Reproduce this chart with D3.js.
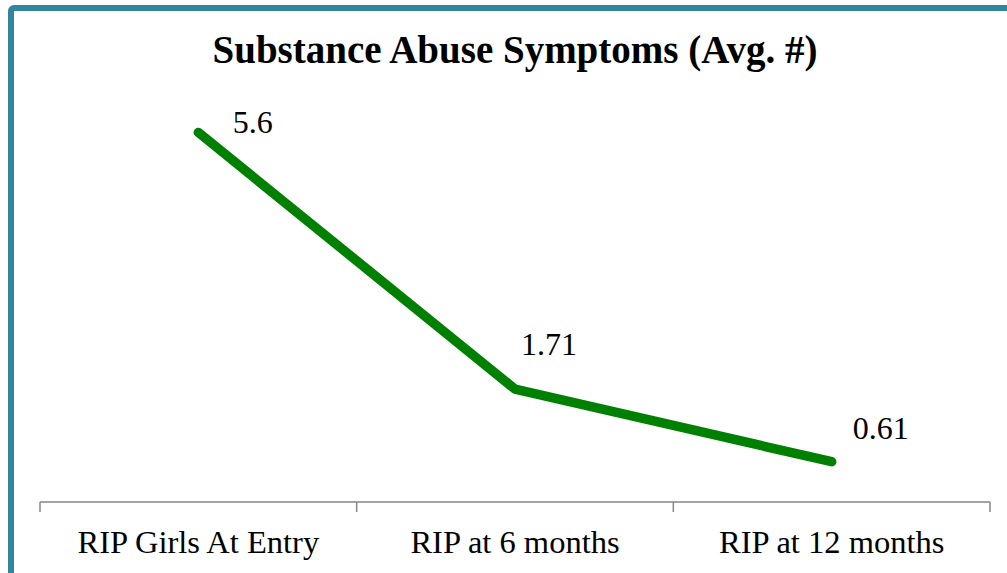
<!DOCTYPE html>
<html>
<head>
<meta charset="utf-8">
<script src="https://cdn.jsdelivr.net/npm/d3@7"></script>
<style>
  html, body { margin: 0; padding: 0; background: #ffffff; }
  svg { display: block; }
</style>
</head>
<body>
<svg id="chart" width="1007" height="573"></svg>
<script>
// Chart data
const categories = ["RIP Girls At Entry", "RIP at 6 months", "RIP at 12 months"];
const symptomValues = [5.6, 1.71, 0.61];
const valueLabels = ["5.6", "1.71", "0.61"];
const chartTitle = "Substance Abuse Symptoms (Avg. #)";

const W = 1007, H = 573;
const svg = d3.select("#chart");
const serif = "'Liberation Serif', 'DejaVu Serif', serif";

// Frame around the chart area (extends past the right and bottom edges)
svg.append("rect")
  .attr("x", 11).attr("y", 8)
  .attr("width", 1200).attr("height", 800)
  .attr("rx", 3)
  .attr("fill", "#ffffff")
  .attr("stroke", "#31859c")
  .attr("stroke-width", 6);

// Plot area
const plot = { left: 40, right: 990, top: 106, bottom: 502 };

const x = d3.scaleBand()
  .domain(categories)
  .range([plot.left, plot.right])
  .paddingInner(0).paddingOuter(0);

const y = d3.scaleLinear()
  .domain([0, 6])
  .range([plot.bottom, plot.top]);

// Title
svg.append("text")
  .attr("x", 515).attr("y", 63)
  .attr("text-anchor", "middle")
  .attr("font-family", serif)
  .attr("font-weight", "bold")
  .attr("font-size", 39)
  .attr("fill", "#000")
  .text(chartTitle);

// Category axis: baseline plus tick marks at band boundaries
const axisG = svg.append("g").attr("transform", `translate(0,${plot.bottom})`);
const boundaries = categories.map(c => x(c)).concat([x(categories[categories.length - 1]) + x.bandwidth()]);

axisG.append("line")
  .attr("x1", plot.left).attr("x2", plot.right)
  .attr("y1", 0).attr("y2", 0)
  .attr("stroke", "#868686").attr("stroke-width", 1.5);

axisG.selectAll("line.tick")
  .data(boundaries)
  .join("line")
  .attr("class", "tick")
  .attr("x1", d => d).attr("x2", d => d)
  .attr("y1", 0).attr("y2", 10)
  .attr("stroke", "#868686").attr("stroke-width", 1.5);

axisG.selectAll("text.cat")
  .data(categories)
  .join("text")
  .attr("class", "cat")
  .attr("x", d => x(d) + x.bandwidth() / 2)
  .attr("y", 51)
  .attr("text-anchor", "middle")
  .attr("font-family", serif)
  .attr("font-size", 32.5)
  .attr("fill", "#000")
  .text(d => d);

// Series line
const pts = categories.map((c, i) => ({ c, v: symptomValues[i], label: valueLabels[i] }));
const line = d3.line()
  .x(d => x(d.c) + x.bandwidth() / 2)
  .y(d => y(d.v));

svg.append("path")
  .datum(pts)
  .attr("d", line)
  .attr("fill", "none")
  .attr("stroke", "#008000")
  .attr("stroke-width", 9.5)
  .attr("stroke-linecap", "round")
  .attr("stroke-linejoin", "round");

// Data labels, nudged individually above and right of each point
const labelNudge = [[54.5, 1], [34, -34], [49, -23]];
svg.selectAll("text.val")
  .data(pts)
  .join("text")
  .attr("class", "val")
  .attr("x", (d, i) => x(d.c) + x.bandwidth() / 2 + labelNudge[i][0])
  .attr("y", (d, i) => y(d.v) + labelNudge[i][1])
  .attr("text-anchor", "middle")
  .attr("font-family", serif)
  .attr("font-size", 32)
  .attr("fill", "#000")
  .text(d => d.label);
</script>
</body>
</html>
